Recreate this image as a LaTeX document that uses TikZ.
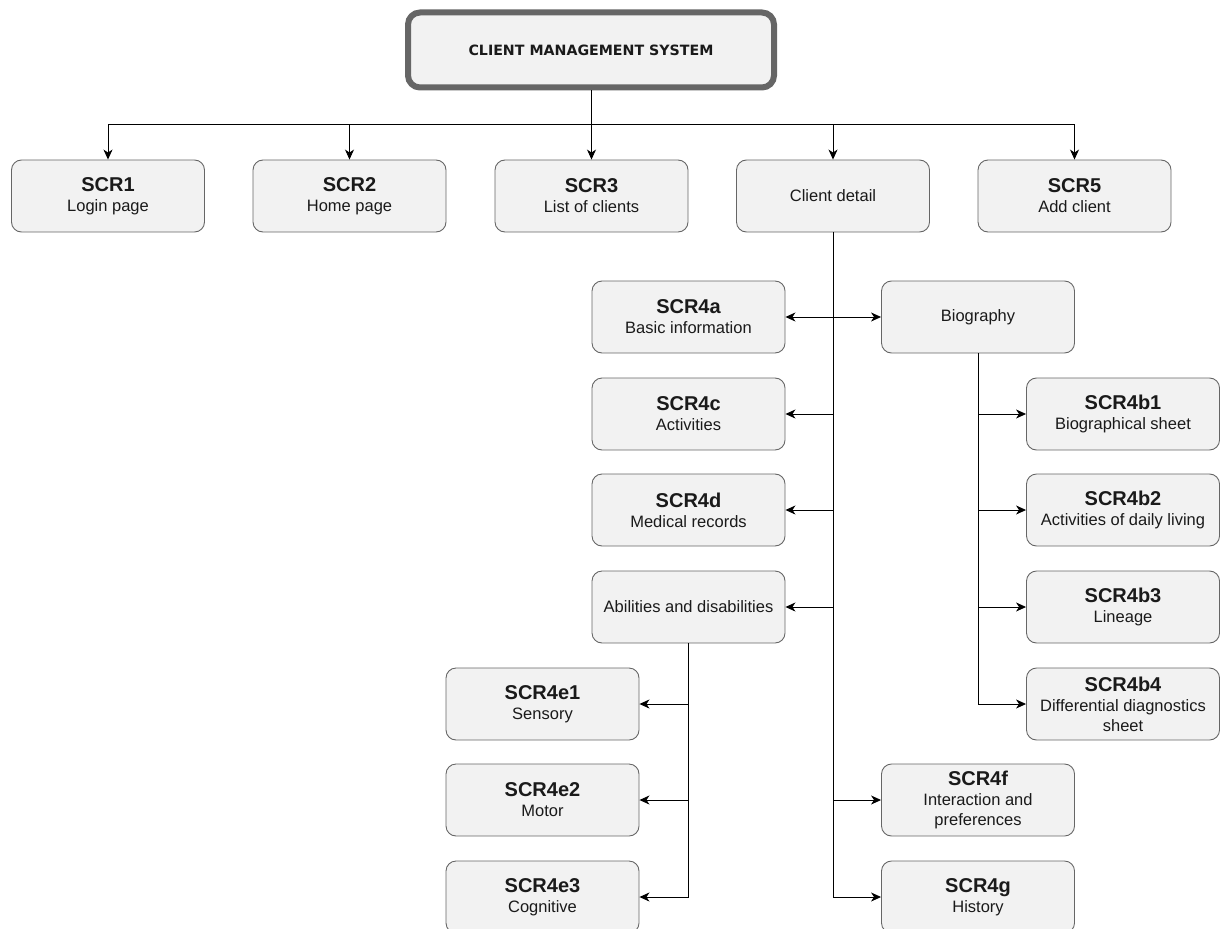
\documentclass[tikz,border=0pt]{standalone}
\usepackage{fontspec}
\setmainfont{Liberation Sans}
\newfontfamily\titlefont{DejaVu Sans}
\usetikzlibrary{arrows.meta}
\definecolor{boxfill}{HTML}{F2F2F2}
\definecolor{boxline}{HTML}{666666}
\definecolor{txt}{HTML}{1A1A1A}
\newcommand{\hd}[1]{{\fontsize{20}{20}\selectfont\bfseries #1}}
\begin{document}
\begin{tikzpicture}[x=1pt,y=-1pt,
  scr/.style={draw=boxline,fill=boxfill,rounded corners=10pt,line width=0.9pt,
    minimum width=193pt,minimum height=72pt,align=center,text=txt,inner sep=2pt,
    font=\fontsize{16.5}{20}\selectfont},
  conn/.style={line width=0.9pt,-{Stealth[length=10pt,width=9pt,inset=3pt]}},
  conn2/.style={line width=0.9pt,{Stealth[length=10pt,width=9pt,inset=3pt]}-{Stealth[length=10pt,width=9pt,inset=3pt]}},
  plain/.style={line width=0.9pt}]
\useasboundingbox (0,0) rectangle (1222,928);
\clip (0,0) rectangle (1222,928);
\node[draw=boxline,fill=boxfill,rounded corners=12pt,line width=6pt,
  minimum width=366pt,minimum height=75pt,text=txt,
  font=\titlefont\bfseries\fontsize{14.2}{16}\selectfont] (title) at (591,50) {CLIENT MANAGEMENT SYSTEM};
\coordinate (bus) at (591,124);
% row 1
\node[scr] (s1) at (108,196) {\hd{SCR1}\\Login page};
\node[scr] (s2) at (349.5,196) {\hd{SCR2}\\Home page};
\node[scr] (s3) at (591.5,196) {\hd{SCR3}\\List of clients};
\node[scr] (cd) at (833,196) {Client detail};
\node[scr] (s5) at (1074.5,196) {\hd{SCR5}\\Add client};
% client detail children
\node[scr] (s4a) at (688.5,317) {\hd{SCR4a}\\Basic information};
\node[scr] (bio) at (978,317) {Biography};
\node[scr] (s4c) at (688.5,414) {\hd{SCR4c}\\Activities};
\node[scr] (s4d) at (688.5,510) {\hd{SCR4d}\\Medical records};
\node[scr] (abil) at (688.5,607) {Abilities and disabilities};
\node[scr] (e1) at (542.5,704) {\hd{SCR4e1}\\Sensory};
\node[scr] (e2) at (542.5,800) {\hd{SCR4e2}\\Motor};
\node[scr] (e3) at (542.5,897) {\hd{SCR4e3}\\Cognitive};
\node[scr] (b1) at (1123,414) {\hd{SCR4b1}\\Biographical sheet};
\node[scr] (b2) at (1123,510) {\hd{SCR4b2}\\Activities of daily living};
\node[scr] (b3) at (1123,607) {\hd{SCR4b3}\\Lineage};
\node[scr] (b4) at (1123,704) {\hd{SCR4b4}\\Differential diagnostics\\sheet};
\node[scr] (s4f) at (978,800) {\hd{SCR4f}\\Interaction and\\preferences};
\node[scr] (s4g) at (978,897) {\hd{SCR4g}\\History};
% connectors: title
\draw[plain] (title.south) -- (bus);
\foreach \n in {s1,s2,s3,cd,s5}{
  \draw[conn] (bus) -| (\n.north);
}
% client detail trunk
\draw[conn2] (s4a.east) -- (bio.west);
\draw[plain] (cd.south) -- (cd.south |- s4a.east);
\draw[conn] (cd.south) |- (s4c.east);
\draw[conn] (cd.south) |- (s4d.east);
\draw[conn] (cd.south) |- (abil.east);
\draw[conn] (cd.south) |- (s4f.west);
\draw[conn] (cd.south) |- (s4g.west);
% biography
\foreach \n in {b1,b2,b3,b4}{
  \draw[conn] (bio.south) |- (\n.west);
}
% abilities
\foreach \n in {e1,e2,e3}{
  \draw[conn] (abil.south) |- (\n.east);
}
\end{tikzpicture}
\end{document}
